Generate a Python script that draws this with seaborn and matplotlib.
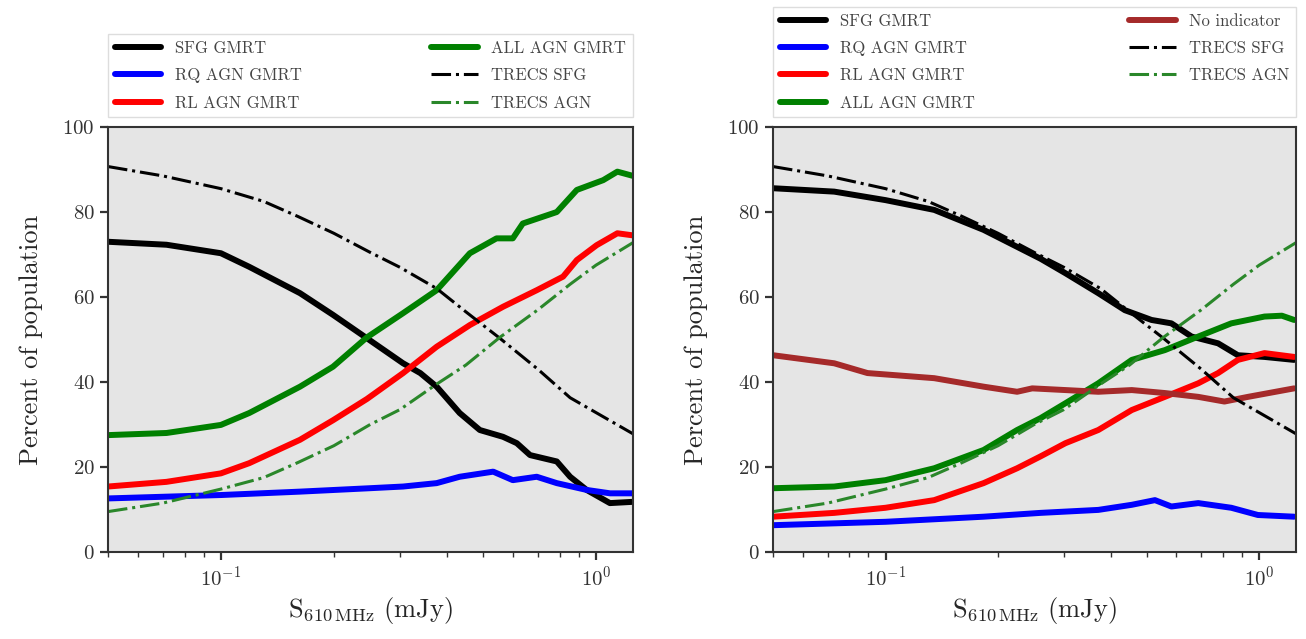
import matplotlib
matplotlib.use("Agg")
import matplotlib.pyplot as plt
import seaborn as sns

# --- data (flux in mJy, percent of population) ---
# T-RECS model curves (same in both panels)
trecs_flux = [0.05, 0.07, 0.1, 0.13, 0.16, 0.2, 0.25, 0.3, 0.376, 0.45, 0.554, 0.7, 0.853, 1.0, 1.255]
trecs_sfg = [90.7, 88.5, 85.5, 82.5, 79.0, 75.0, 70.5, 67.0, 62.0, 56.5, 50.3, 43.0, 36.3, 32.8, 27.8]
trecs_agn = [9.5, 11.5, 14.8, 17.5, 21.0, 25.0, 30.0, 33.5, 39.5, 44.0, 50.5, 57.0, 63.0, 67.5, 72.8]

# left panel, GMRT
l_sfg_x = [0.05, 0.0716, 0.1, 0.119, 0.1625, 0.199, 0.245, 0.306, 0.34, 0.376, 0.433, 0.49,
           0.565, 0.615, 0.667, 0.786, 0.853, 0.944, 1.089, 1.255]
l_sfg_y = [73.0, 72.3, 70.3, 67.1, 60.9, 55.8, 50.3, 44.4, 42.1, 38.9, 32.7, 28.7,
           27.1, 25.6, 22.8, 21.3, 17.7, 14.6, 11.5, 11.8]
l_all_x = [0.05, 0.0716, 0.1, 0.119, 0.1625, 0.199, 0.245, 0.306, 0.376, 0.461, 0.543, 0.6,
           0.638, 0.786, 0.889, 1.045, 1.14, 1.255]
l_all_y = [27.5, 28.0, 29.9, 32.7, 38.9, 43.6, 50.5, 56.2, 61.6, 70.3, 73.8, 73.8,
           77.3, 80.0, 85.2, 87.5, 89.5, 88.5]
l_rl_x = [0.05, 0.0716, 0.1, 0.119, 0.1625, 0.199, 0.245, 0.306, 0.376, 0.461, 0.565, 0.695,
          0.817, 0.889, 1.004, 1.14, 1.255]
l_rl_y = [15.4, 16.5, 18.5, 20.9, 26.4, 31.0, 36.0, 42.1, 48.3, 53.4, 57.7, 61.6,
          64.8, 68.7, 72.2, 75.0, 74.5]
l_rq_x = [0.05, 0.1, 0.1625, 0.249, 0.306, 0.376, 0.433, 0.532, 0.6, 0.695, 0.786, 0.944, 1.09, 1.255]
l_rq_y = [12.6, 13.4, 14.2, 15.0, 15.4, 16.2, 17.7, 18.9, 16.9, 17.7, 16.2, 14.6, 13.8, 13.8]

# right panel, GMRT
r_sfg_x = [0.05, 0.0729, 0.1, 0.135, 0.183, 0.225, 0.26, 0.303, 0.371, 0.437, 0.515, 0.582,
           0.659, 0.776, 0.877, 1.033, 1.24]
r_sfg_y = [85.6, 84.8, 82.8, 80.5, 75.8, 71.8, 69.0, 65.6, 60.9, 56.9, 54.6, 53.8,
           50.7, 49.1, 46.3, 45.9, 45.2]
r_all_x = [0.05, 0.0729, 0.1, 0.135, 0.183, 0.225, 0.26, 0.303, 0.371, 0.456, 0.559, 0.687,
           0.842, 1.033, 1.15, 1.24]
r_all_y = [15.0, 15.4, 16.9, 19.7, 24.0, 28.7, 31.5, 35.0, 39.7, 45.2, 47.5, 50.7,
           53.8, 55.4, 55.6, 54.6]
r_rl_x = [0.05, 0.0729, 0.1, 0.135, 0.183, 0.225, 0.26, 0.303, 0.371, 0.456, 0.559, 0.687,
          0.776, 0.877, 1.033, 1.24]
r_rl_y = [8.3, 9.2, 10.4, 12.2, 16.2, 19.7, 22.5, 25.6, 28.7, 33.4, 36.5, 39.7,
          42.1, 45.2, 46.8, 45.9]
r_noind_x = [0.05, 0.0729, 0.0895, 0.135, 0.183, 0.225, 0.247, 0.303, 0.371, 0.456, 0.559,
             0.687, 0.807, 0.933, 1.24]
r_noind_y = [46.3, 44.4, 42.1, 40.9, 38.9, 37.7, 38.5, 38.1, 37.7, 38.1, 37.4,
             36.5, 35.4, 36.5, 38.5]
r_rq_x = [0.05, 0.1, 0.183, 0.26, 0.371, 0.456, 0.526, 0.582, 0.687, 0.842, 0.992, 1.24]
r_rq_y = [6.3, 7.1, 8.3, 9.2, 9.9, 11.1, 12.2, 10.7, 11.5, 10.4, 8.7, 8.3]

# --- styling ---
sns.set_theme(style="ticks", rc={
    "axes.facecolor": "#e5e5e5",
    "axes.edgecolor": "#333333",
    "axes.linewidth": 1.5,
    "xtick.major.size": 6, "xtick.major.width": 1.6,
    "xtick.minor.size": 3.5, "xtick.minor.width": 1.0,
    "ytick.major.size": 6, "ytick.major.width": 1.6,
    "xtick.color": "#333333", "ytick.color": "#333333",
})
plt.rcParams["font.family"] = ["cmr10", "DejaVu Serif"]
plt.rcParams["mathtext.fontset"] = "cm"
plt.rcParams["axes.formatter.use_mathtext"] = True
plt.rcParams["axes.unicode_minus"] = False

LW = 4.3
DLW = 2.2
fig = plt.figure(figsize=(13.06, 6.39), dpi=100)
ax1 = fig.add_axes([0.0827, 0.1362, 0.402, 0.665])
ax2 = fig.add_axes([0.5919, 0.1362, 0.4005, 0.665])

# left panel
sns.lineplot(x=l_sfg_x, y=l_sfg_y, ax=ax1, color="black", lw=LW, label="SFG GMRT")
sns.lineplot(x=l_rq_x, y=l_rq_y, ax=ax1, color="#0000ff", lw=LW, label="RQ AGN GMRT")
sns.lineplot(x=l_rl_x, y=l_rl_y, ax=ax1, color="#ff0000", lw=LW, label="RL AGN GMRT")
sns.lineplot(x=l_all_x, y=l_all_y, ax=ax1, color="#008000", lw=LW, label="ALL AGN GMRT")
sns.lineplot(x=trecs_flux, y=trecs_sfg, ax=ax1, color="black", lw=DLW, ls="-.", label="TRECS SFG")
sns.lineplot(x=trecs_flux, y=trecs_agn, ax=ax1, color="#2a872a", lw=DLW, ls="-.", label="TRECS AGN")

# right panel
sns.lineplot(x=r_sfg_x, y=r_sfg_y, ax=ax2, color="black", lw=LW, label="SFG GMRT")
sns.lineplot(x=r_rq_x, y=r_rq_y, ax=ax2, color="#0000ff", lw=LW, label="RQ AGN GMRT")
sns.lineplot(x=r_rl_x, y=r_rl_y, ax=ax2, color="#ff0000", lw=LW, label="RL AGN GMRT")
sns.lineplot(x=r_all_x, y=r_all_y, ax=ax2, color="#008000", lw=LW, label="ALL AGN GMRT")
sns.lineplot(x=r_noind_x, y=r_noind_y, ax=ax2, color="#a52a2a", lw=LW, label="No indicator")
sns.lineplot(x=trecs_flux, y=trecs_sfg, ax=ax2, color="black", lw=DLW, ls="-.", label="TRECS SFG")
sns.lineplot(x=trecs_flux, y=trecs_agn, ax=ax2, color="#2a872a", lw=DLW, ls="-.", label="TRECS AGN")

for ax in (ax1, ax2):
    ax.set_xscale("log")
    ax.set_xlim(0.05, 1.255)
    ax.set_ylim(0, 100)
    ax.set_yticks([0, 20, 40, 60, 80, 100])
    ax.tick_params(axis="both", labelsize=15, direction="out")
    ax.tick_params(axis="x", which="minor", bottom=True)
    ax.set_xlabel(r"$\mathrm{S_{610\,MHz}}$ (mJy)", fontsize=19)
    ax.set_ylabel("Percent of population", fontsize=19, labelpad=14)
    ax.grid(False)
    leg = ax.legend(loc="lower left", bbox_to_anchor=(0.0, 1.023, 1.0, 0.2), mode="expand",
                    ncol=2, fontsize=12, frameon=True, fancybox=False, borderaxespad=0,
                    handlelength=2.8, handletextpad=0.8, labelspacing=0.72)
    leg.get_frame().set_facecolor("white")
    leg.get_frame().set_alpha(1.0)
    leg.get_frame().set_edgecolor("#dddddd")
    leg.get_frame().set_linewidth(1.0)
    for t in leg.get_texts():
        t.set_color("#444444")

fig.savefig("out.png", dpi=100)
